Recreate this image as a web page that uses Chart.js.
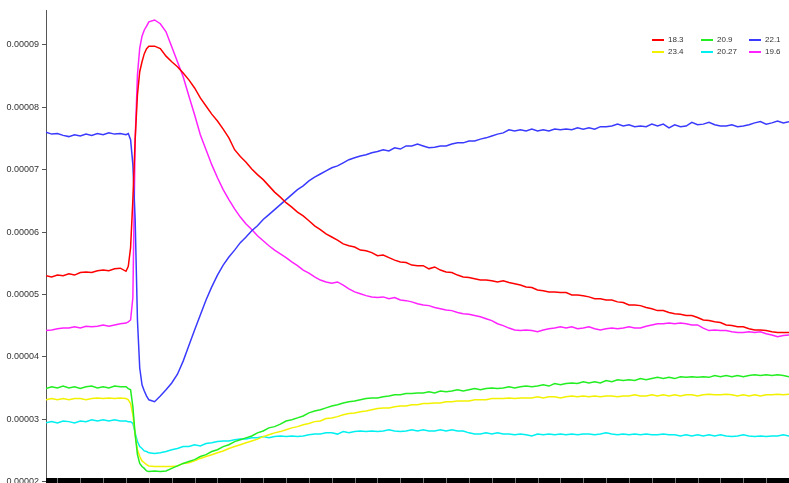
<!DOCTYPE html>
<html>
<head>
<meta charset="utf-8">
<script src="https://cdn.jsdelivr.net/npm/chart.js@4/dist/chart.umd.min.js"></script>
<style>
  html, body { margin: 0; padding: 0; background: #fff; }
  #wrap { position: relative; width: 789px; height: 483px; overflow: hidden; }
  #legend {
    position: absolute; left: 652px; top: 34px;
    display: grid; grid-template-columns: 49px 48px 40px; row-gap: 1px;
    font: 8px "Liberation Sans", Arial, sans-serif; color: #333;
  }
  .item { display: flex; align-items: center; height: 11px; white-space: nowrap; }
  .sw { width: 12px; height: 2px; margin-right: 4px; }
</style>
</head>
<body>
<div id="wrap">
  <canvas id="c" width="789" height="483"></canvas>
  <div id="legend"></div>
</div>
<script>
// Sample times (x axis); denser around the step change at t ≈ 3.
const time = [
  -0.5,-0.25,0,0.25,0.5,0.75,1,1.25,1.5,1.75,2,2.25,2.5,2.75,3,
  3.1,3.2,3.3,3.4,3.5,3.6,3.7,3.8,3.9,4,
  4.25,4.5,4.75,5, 5.25,5.5,5.75,6, 6.25,6.5,6.75,7, 7.25,7.5,7.75,8,
  8.25,8.5,8.75,9, 9.25,9.5,9.75,10, 10.25,10.5,10.75,11, 11.25,11.5,11.75,12,
  12.25,12.5,12.75,13, 13.25,13.5,13.75,14, 14.25,14.5,14.75,15, 15.25,15.5,15.75,16,
  16.25,16.5,16.75,17, 17.25,17.5,17.75,18, 18.25,18.5,18.75,19, 19.25,19.5,19.75,20,
  20.25,20.5,20.75,21, 21.25,21.5,21.75,22, 22.25,22.5,22.75,23, 23.25,23.5,23.75,24,
  24.25,24.5,24.75,25, 25.25,25.5,25.75,26, 26.25,26.5,26.75,27, 27.25,27.5,27.75,28,
  28.25,28.5,28.75,29, 29.25,29.5,29.75,30, 30.25,30.5,30.75,31, 31.25,31.5,31.75,32
];

// Series values, in units of 1e-5.
const s18_3 = [
  5.30,5.28,5.31,5.30,5.33,5.31,5.35,5.36,5.35,5.38,5.39,5.38,5.41,5.42,5.37,
  5.45,5.75,6.52,7.48,8.20,8.57,8.73,8.86,8.94,8.98,
  8.98,8.94,8.82,8.73, 8.65,8.55,8.44,8.31, 8.15,8.02,7.89,7.78, 7.65,7.51,7.32,7.21,
  7.12,7.01,6.92,6.84, 6.74,6.64,6.56,6.47, 6.40,6.32,6.26,6.18, 6.10,6.04,5.97,5.92,
  5.87,5.81,5.78,5.76, 5.71,5.70,5.67,5.62, 5.63,5.59,5.55,5.52, 5.51,5.47,5.46,5.46,
  5.41,5.44,5.39,5.36, 5.35,5.31,5.28,5.27, 5.25,5.23,5.23,5.22, 5.20,5.22,5.19,5.17,
  5.15,5.12,5.11,5.07, 5.06,5.04,5.04,5.03, 5.03,4.99,4.99,4.98, 4.96,4.93,4.93,4.91,
  4.91,4.88,4.87,4.83, 4.83,4.82,4.79,4.77, 4.74,4.74,4.71,4.69, 4.68,4.66,4.66,4.63,
  4.59,4.58,4.56,4.55, 4.51,4.50,4.48,4.48, 4.45,4.43,4.43,4.42, 4.40,4.39,4.39,4.39
];
const s20_9 = [
  3.49,3.52,3.50,3.53,3.50,3.52,3.49,3.52,3.53,3.50,3.52,3.50,3.53,3.52,3.52,
  3.49,3.47,3.20,2.75,2.43,2.29,2.24,2.21,2.17,2.16,
  2.17,2.16,2.17,2.21, 2.25,2.29,2.32,2.35, 2.40,2.43,2.48,2.51, 2.56,2.59,2.64,2.67,
  2.70,2.73,2.78,2.81, 2.86,2.88,2.92,2.97, 2.99,3.02,3.05,3.10, 3.13,3.15,3.18,3.21,
  3.23,3.26,3.28,3.29, 3.31,3.33,3.34,3.34, 3.36,3.37,3.39,3.39, 3.41,3.41,3.42,3.42,
  3.44,3.42,3.45,3.44, 3.45,3.47,3.45,3.47, 3.49,3.47,3.49,3.50, 3.49,3.50,3.52,3.50,
  3.52,3.53,3.52,3.53, 3.55,3.53,3.57,3.55, 3.57,3.58,3.57,3.60, 3.58,3.60,3.58,3.62,
  3.60,3.63,3.62,3.63, 3.62,3.65,3.63,3.65, 3.67,3.65,3.67,3.65, 3.68,3.67,3.68,3.67,
  3.68,3.67,3.70,3.68, 3.70,3.68,3.70,3.68, 3.70,3.71,3.70,3.71, 3.70,3.71,3.70,3.68
];
const s22_1 = [
  7.60,7.57,7.58,7.55,7.53,7.56,7.54,7.57,7.55,7.58,7.56,7.59,7.57,7.58,7.56,
  7.58,7.48,7.08,6.20,4.59,3.82,3.55,3.45,3.37,3.31,
  3.28,3.37,3.47,3.58, 3.72,3.93,4.18,4.43, 4.67,4.91,5.12,5.31, 5.47,5.60,5.71,5.83,
  5.92,6.02,6.10,6.20, 6.28,6.36,6.44,6.52, 6.60,6.68,6.74,6.82, 6.88,6.93,6.98,7.03,
  7.06,7.11,7.16,7.19, 7.22,7.24,7.27,7.29, 7.32,7.30,7.35,7.33, 7.38,7.38,7.41,7.38,
  7.35,7.36,7.38,7.38, 7.41,7.43,7.43,7.46, 7.46,7.49,7.51,7.54, 7.57,7.59,7.64,7.62,
  7.64,7.62,7.65,7.62, 7.64,7.62,7.65,7.64, 7.65,7.64,7.67,7.65, 7.67,7.65,7.69,7.69,
  7.70,7.73,7.70,7.72, 7.69,7.70,7.69,7.73, 7.70,7.73,7.67,7.72, 7.69,7.70,7.76,7.72,
  7.73,7.76,7.72,7.70, 7.70,7.72,7.69,7.70, 7.72,7.75,7.77,7.73, 7.75,7.78,7.75,7.77
];
const s23_4 = [
  3.31,3.33,3.31,3.33,3.31,3.33,3.33,3.31,3.33,3.34,3.33,3.34,3.33,3.34,3.33,
  3.31,3.25,3.07,2.75,2.51,2.40,2.33,2.30,2.27,2.25,
  2.24,2.24,2.24,2.24, 2.25,2.29,2.30,2.33, 2.37,2.40,2.43,2.46, 2.49,2.53,2.56,2.59,
  2.62,2.65,2.68,2.72, 2.75,2.78,2.80,2.83, 2.86,2.88,2.91,2.93, 2.96,2.97,3.01,3.02,
  3.04,3.07,3.09,3.10, 3.12,3.13,3.15,3.17, 3.18,3.18,3.20,3.21, 3.21,3.23,3.23,3.25,
  3.25,3.26,3.26,3.28, 3.28,3.29,3.29,3.29, 3.31,3.31,3.31,3.33, 3.33,3.33,3.34,3.33,
  3.34,3.34,3.34,3.36, 3.34,3.36,3.36,3.34, 3.36,3.37,3.36,3.37, 3.36,3.37,3.36,3.37,
  3.37,3.36,3.37,3.37, 3.39,3.37,3.37,3.39, 3.37,3.39,3.37,3.39, 3.37,3.39,3.39,3.37,
  3.39,3.40,3.39,3.39, 3.40,3.39,3.37,3.39, 3.37,3.39,3.37,3.39, 3.39,3.40,3.39,3.40
];
const s20_27 = [
  2.94,2.96,2.94,2.97,2.96,2.94,2.97,2.96,2.99,2.97,2.99,2.97,2.99,2.97,2.97,
  2.96,2.96,2.93,2.78,2.64,2.56,2.53,2.49,2.48,2.46,
  2.45,2.46,2.48,2.51, 2.53,2.56,2.56,2.59, 2.57,2.61,2.62,2.64, 2.65,2.65,2.67,2.68,
  2.68,2.70,2.70,2.72, 2.70,2.72,2.73,2.72, 2.73,2.72,2.73,2.75, 2.76,2.76,2.78,2.78,
  2.76,2.80,2.78,2.80, 2.81,2.80,2.81,2.80, 2.81,2.83,2.81,2.80, 2.81,2.83,2.81,2.83,
  2.81,2.81,2.83,2.81, 2.83,2.81,2.81,2.78, 2.76,2.76,2.78,2.76, 2.78,2.76,2.76,2.75,
  2.76,2.75,2.73,2.76, 2.75,2.76,2.75,2.76, 2.75,2.76,2.75,2.76, 2.76,2.75,2.76,2.78,
  2.76,2.75,2.76,2.75, 2.76,2.75,2.76,2.75, 2.75,2.76,2.75,2.75, 2.73,2.75,2.73,2.75,
  2.73,2.75,2.73,2.75, 2.73,2.72,2.73,2.75, 2.73,2.72,2.73,2.72, 2.73,2.73,2.75,2.73
];
const s19_6 = [
  4.42,4.43,4.45,4.46,4.46,4.48,4.46,4.49,4.48,4.49,4.51,4.49,4.51,4.53,4.54,
  4.56,4.59,4.95,7.48,8.52,8.95,9.14,9.24,9.30,9.37,
  9.40,9.34,9.21,8.97, 8.73,8.49,8.18,7.88, 7.56,7.32,7.08,6.87, 6.68,6.52,6.37,6.24,
  6.13,6.04,5.94,5.86, 5.78,5.71,5.65,5.59, 5.52,5.46,5.39,5.34, 5.28,5.23,5.20,5.18,
  5.20,5.15,5.09,5.04, 5.01,4.98,4.96,4.95, 4.96,4.93,4.95,4.91, 4.90,4.88,4.85,4.83,
  4.82,4.79,4.77,4.75, 4.74,4.71,4.69,4.68, 4.66,4.64,4.61,4.58, 4.53,4.50,4.46,4.43,
  4.42,4.43,4.42,4.40, 4.43,4.45,4.46,4.48, 4.46,4.48,4.45,4.46, 4.48,4.45,4.43,4.45,
  4.46,4.45,4.46,4.48, 4.46,4.46,4.49,4.51, 4.53,4.53,4.54,4.53, 4.54,4.53,4.51,4.51,
  4.46,4.42,4.43,4.42, 4.42,4.40,4.39,4.39, 4.40,4.39,4.40,4.37, 4.35,4.32,4.34,4.35
];

const seriesLabels = ['18.3', '20.9', '22.1', '23.4', '20.27', '19.6'];
const seriesValues = [s18_3, s20_9, s22_1, s23_4, s20_27, s19_6];
const seriesColors = ['#ff0000', '#22ee22', '#3a3aff', '#f2f200', '#00f0f0', '#ff22ff'];
const yTicks = [0.00002, 0.00003, 0.00004, 0.00005, 0.00006, 0.00007, 0.00008, 0.00009];
const UNIT = 1e-5;

const datasets = seriesLabels.map((label, i) => ({
  label,
  data: time.map((t, k) => ({ x: t, y: seriesValues[i][k] * UNIT })),
  borderColor: seriesColors[i],
  backgroundColor: seriesColors[i],
  borderWidth: 1.5,
  pointRadius: 0,
  tension: 0,
  fill: false
}));

// Solid black time strip along the bottom with grey tick divisions.
const axisBand = {
  id: 'axisBand',
  afterDraw(chart) {
    const { ctx, chartArea, scales: { x } } = chart;
    const top = chartArea.bottom - 3.5;
    ctx.save();
    ctx.fillStyle = '#000';
    ctx.fillRect(chartArea.left, top, chartArea.right - chartArea.left, chart.height - top);
    ctx.strokeStyle = '#777';
    ctx.lineWidth = 1;
    x.ticks.forEach(t => {
      const px = Math.round(x.getPixelForValue(t.value)) + 0.5;
      ctx.beginPath();
      ctx.moveTo(px, top);
      ctx.lineTo(px, chart.height);
      ctx.stroke();
    });
    ctx.restore();
  }
};

const chart = new Chart(document.getElementById('c'), {
  type: 'line',
  data: { datasets },
  options: {
    responsive: false,
    animation: false,
    devicePixelRatio: 1,
    layout: { padding: { top: 10, right: 0, bottom: 0, left: 0 } },
    plugins: { legend: { display: false }, tooltip: { enabled: false } },
    scales: {
      x: {
        type: 'linear', min: -0.5, max: 32,
        ticks: { display: false, stepSize: 1, includeBounds: false },
        grid: { display: false },
        border: { display: false },
        afterFit(s) { s.height = 1.5; }
      },
      y: {
        min: 0.00002, max: 0.0000956,
        afterBuildTicks(s) { s.ticks = yTicks.map(v => ({ value: v })); },
        ticks: {
          callback: v => v.toFixed(5),
          font: { family: '"Liberation Sans", Arial, sans-serif', size: 9 },
          color: '#333',
          padding: 3
        },
        grid: { drawOnChartArea: false, tickLength: 4, color: '#555' },
        border: { color: '#555', width: 1 },
        afterFit(s) { s.width = 46; s.paddingTop = 0; s.paddingBottom = 0; }
      }
    }
  },
  plugins: [axisBand]
});

// Legend: three columns, two rows, in the top right corner of the plot.
const legendEl = document.getElementById('legend');
chart.data.datasets.forEach(ds => {
  const item = document.createElement('div');
  item.className = 'item';
  const sw = document.createElement('span');
  sw.className = 'sw';
  sw.style.background = ds.borderColor;
  const txt = document.createElement('span');
  txt.textContent = ds.label;
  item.appendChild(sw);
  item.appendChild(txt);
  legendEl.appendChild(item);
});
</script>
</body>
</html>
